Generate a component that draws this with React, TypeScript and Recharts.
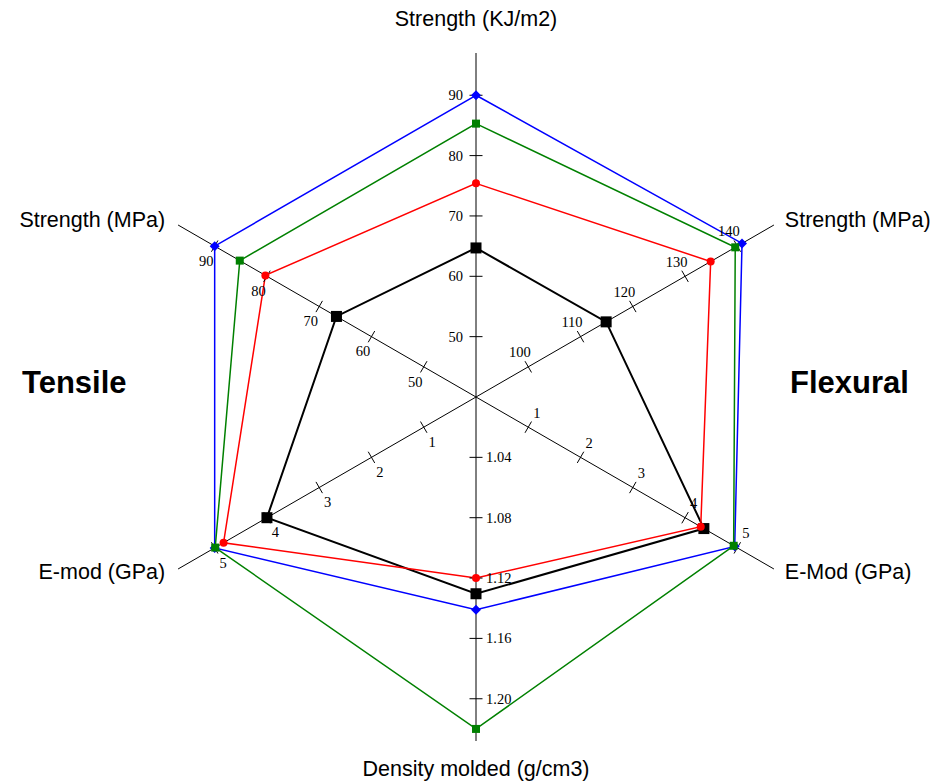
import { PolarAngleAxis, PolarRadiusAxis, Radar, RadarChart } from "recharts";

// one entry per spoke, clockwise from the top
const AXIS_KEYS = ["impact", "flexStrength", "flexMod", "density", "tensMod", "tensStrength"];
const AXIS_LABELS = [
  "Strength (KJ/m2)",
  "Strength (MPa)",
  "E-Mod (GPa)",
  "Density molded (g/cm3)",
  "E-mod (GPa)",
  "Strength (MPa)",
];
// value at the centre and value per tick step on each spoke
const AXIS_MIN = [40, 90, 0, 1.0, 0, 40];
const AXIS_STEP = [10, 10, 1, 0.04, 1, 10];
const AXIS_TICKS = [
  [50, 60, 70, 80, 90],
  [100, 110, 120, 130, 140],
  [1, 2, 3, 4, 5],
  [1.04, 1.08, 1.12, 1.16, 1.2],
  [1, 2, 3, 4, 5],
  [50, 60, 70, 80, 90],
];

const BLUE = [90, 140.9, 4.95, 1.141, 5.0, 90];
const GREEN = [85.3, 139.6, 4.93, 1.22, 4.99, 85.2];
const RED = [75.4, 134.9, 4.3, 1.12, 4.83, 80.3];
const BLACK = [64.7, 114.9, 4.36, 1.1304, 4.0, 66.7];

// radius scale spans 6 tick steps; the drawn spokes stop at 5.7 steps
const OUTER_STEPS = 6;
const SPOKE_STEPS = 5.7;
const STEP_PX = 60.35;
const OUTER_R = OUTER_STEPS * STEP_PX;
const SPOKE_R = SPOKE_STEPS * STEP_PX;

const rows = AXIS_KEYS.map((key, i) => {
  const norm = (v: number) => (v - AXIS_MIN[i]) / AXIS_STEP[i];
  return {
    key,
    label: AXIS_LABELS[i],
    blue: norm(BLUE[i]),
    green: norm(GREEN[i]),
    red: norm(RED[i]),
    black: norm(BLACK[i]),
  };
});

type Shape = "diamond" | "square" | "circle";

function marker(shape: Shape, color: string, size: number) {
  return (props: any) => {
    const { cx, cy, index } = props;
    if (cx == null || cy == null) return null;
    if (shape === "circle") {
      return <circle key={`m-${index}`} cx={cx} cy={cy} r={size} fill={color} />;
    }
    if (shape === "diamond") {
      const d = `M${cx},${cy - size}L${cx + size},${cy}L${cx},${cy + size}L${cx - size},${cy}Z`;
      return <path key={`m-${index}`} d={d} fill={color} />;
    }
    return (
      <rect key={`m-${index}`} x={cx - size} y={cy - size} width={size * 2} height={size * 2} fill={color} />
    );
  };
}

function radiusTick(i: number) {
  const theta = ((90 - i * 60) * Math.PI) / 180;
  // unit vector perpendicular to the spoke (counter-clockwise side)
  const px = -Math.sin(theta);
  const py = -Math.cos(theta);
  const vertical = Math.abs(Math.cos(theta)) < 0.01;
  return (props: any) => {
    const { x, y, payload } = props;
    const v = payload.value as number;
    // the centre and spoke-end values only set the axis line's extent
    if (!AXIS_TICKS[i].some((t) => Math.abs(t - v) < 1e-9)) return <g />;
    const text = i === 3 ? v.toFixed(2) : String(v);
    let lx = x + 17 * px;
    let ly = y + 17 * py;
    let anchor: "start" | "middle" | "end" = "middle";
    if (vertical) {
      anchor = px < 0 ? "end" : "start";
      lx = x + (px < 0 ? -13 : 10);
      ly = y;
    }
    return (
      <g>
        <line x1={x - 6.5 * px} y1={y - 6.5 * py} x2={x + 6.5 * px} y2={y + 6.5 * py} stroke="#000" strokeWidth={1} />
        <text
          x={lx}
          y={ly}
          dy="0.35em"
          textAnchor={anchor}
          fontFamily="'Liberation Serif', 'Times New Roman', serif"
          fontSize={14.5}
          fill="#000"
        >
          {text}
        </text>
      </g>
    );
  };
}

function AngleLabel(props: any) {
  const { x, y, payload, index } = props;
  const theta = ((90 - index * 60) * Math.PI) / 180;
  const c = Math.cos(theta);
  const s = Math.sin(theta);
  // pull the label back from the scale's outer edge to the spoke's end
  const back = OUTER_R - SPOKE_R;
  const bx = x - back * c;
  const by = y + back * s;
  let anchor: "start" | "middle" | "end" = "middle";
  let dx = 0;
  let dy = 6;
  if (Math.abs(c) < 0.01) {
    dy = s > 0 ? -19 : 27;
  } else if (c > 0) {
    anchor = "start";
    dx = 4;
  } else {
    anchor = "end";
    dx = -6;
  }
  const label = rows.find((r) => r.key === payload.value)?.label ?? payload.value;
  return (
    <text
      x={bx + dx}
      y={by + dy}
      textAnchor={anchor}
      fontFamily="'Liberation Sans', Arial, sans-serif"
      fontSize={21.5}
      fill="#000"
    >
      {label}
    </text>
  );
}

const SERIES = [
  { key: "black", color: "#000", width: 2, dot: marker("square", "#000", 5.5) },
  { key: "blue", color: "#0000ff", width: 1.5, dot: marker("diamond", "#0000ff", 5) },
  { key: "green", color: "#008000", width: 1.5, dot: marker("square", "#008000", 4) },
  { key: "red", color: "#ff0000", width: 1.5, dot: marker("circle", "#ff0000", 4) },
];

export default function App() {
  return (
    <div style={{ position: "absolute", left: 0, top: 0, width: 942, height: 781, background: "#fff" }}>
      <RadarChart
        width={942}
        height={781}
        data={rows}
        cx={476}
        cy={397}
        outerRadius={OUTER_R}
        margin={{ top: 0, right: 0, bottom: 0, left: 0 }}
      >
        <PolarAngleAxis dataKey="key" tick={<AngleLabel />} tickLine={false} axisLine={false} />
        <PolarRadiusAxis
          radiusAxisId="main"
          domain={[0, OUTER_STEPS]}
          type="number"
          allowDataOverflow
          tick={false}
          axisLine={false}
        />
        {AXIS_KEYS.map((k, i) => (
          <PolarRadiusAxis
            key={k}
            radiusAxisId={`r${i}`}
            angle={90 - i * 60}
            type="number"
            domain={[AXIS_MIN[i], AXIS_MIN[i] + OUTER_STEPS * AXIS_STEP[i]]}
            allowDataOverflow
            ticks={[AXIS_MIN[i], ...AXIS_TICKS[i], AXIS_MIN[i] + SPOKE_STEPS * AXIS_STEP[i]]}
            tick={radiusTick(i)}
            stroke="#000"
            axisLine={{ stroke: "#000", strokeWidth: 1 }}
          />
        ))}
        {SERIES.map((s) => (
          <Radar
            key={s.key}
            radiusAxisId="main"
            dataKey={s.key}
            stroke={s.color}
            strokeWidth={s.width}
            fill="none"
            fillOpacity={0}
            dot={s.dot}
            isAnimationActive={false}
          />
        ))}
      </RadarChart>
      <svg width={942} height={781} style={{ position: "absolute", left: 0, top: 0, pointerEvents: "none" }}>
        <text x={22} y={393} fontFamily="'Liberation Sans', Arial, sans-serif" fontWeight="bold" fontSize={31}>
          Tensile
        </text>
        <text x={790} y={393} fontFamily="'Liberation Sans', Arial, sans-serif" fontWeight="bold" fontSize={31}>
          Flexural
        </text>
      </svg>
    </div>
  );
}
